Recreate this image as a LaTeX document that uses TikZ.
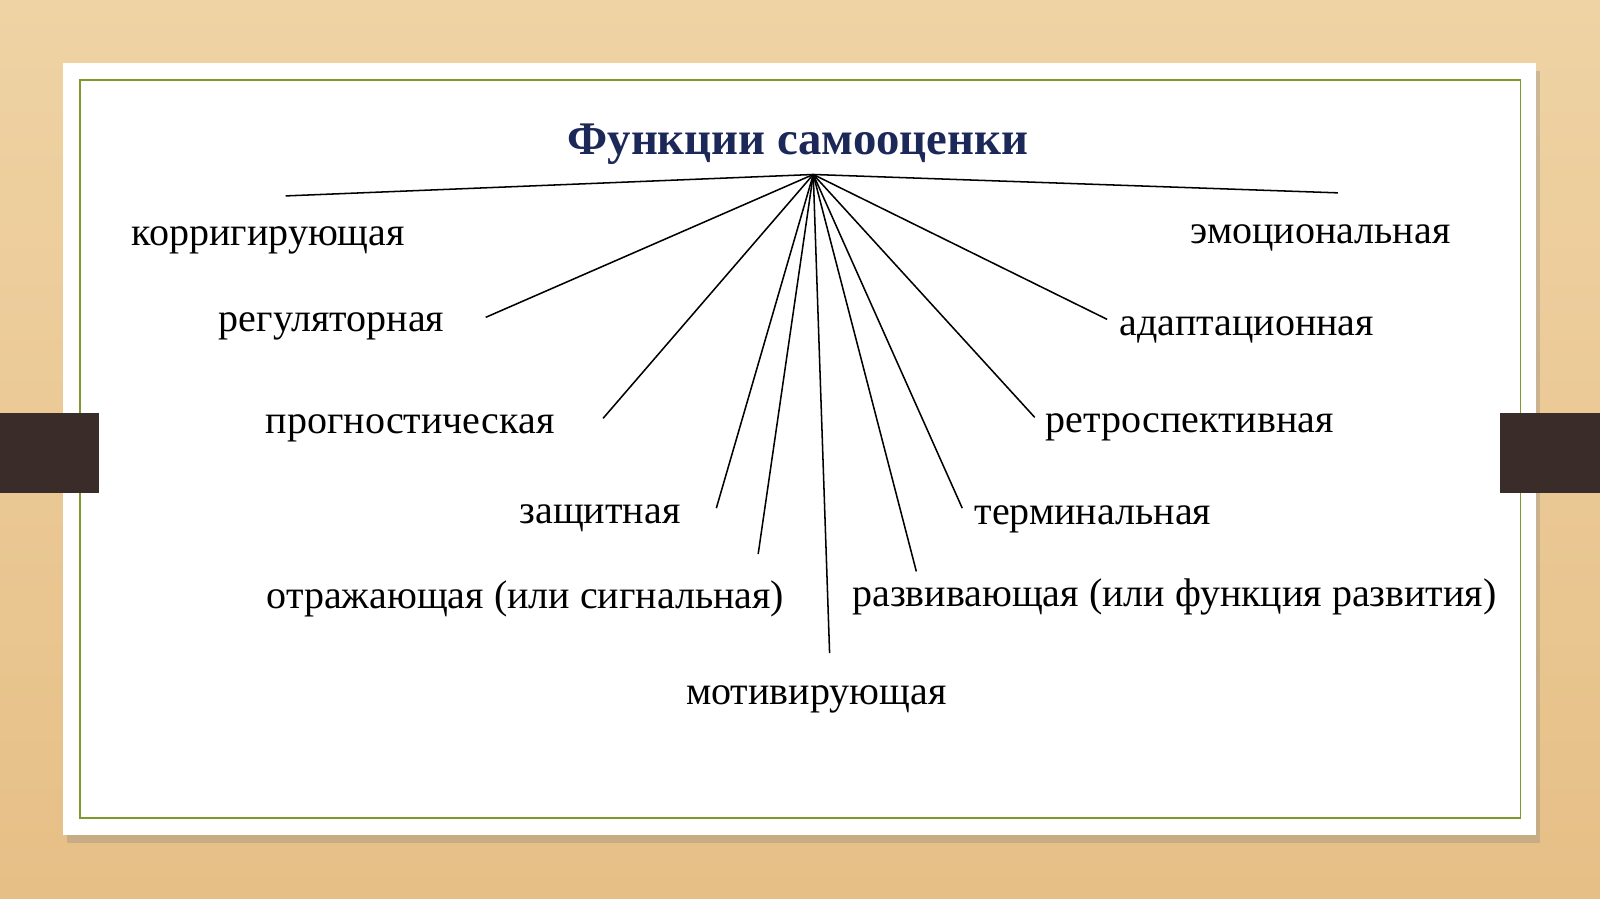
\documentclass[tikz,border=0pt]{standalone}
\usepackage{fontspec}
\setmainfont{Liberation Serif}
\usetikzlibrary{shadows}

\definecolor{woodlight}{HTML}{EFD3A4}
\definecolor{wooddark}{HTML}{E6BF86}
\definecolor{framegreen}{HTML}{7E9A2C}
\definecolor{tabbrown}{HTML}{3A2D29}
\definecolor{titleblue}{HTML}{1B2858}

\begin{document}
\begin{tikzpicture}
[ x=0.5pt, y=-0.5pt
, every node/.style={font=\fontsize{19.6}{23}\selectfont, inner sep=0pt}
, func/.style={text=black, yshift=-3.5pt}
, spoke/.style={draw=black, line width=0.75pt}
]

% background
\shade[top color=woodlight, bottom color=wooddark] (0,0) rectangle (1568,881);
\useasboundingbox (0,0) rectangle (1568,881);

% card
\fill[white, drop shadow={shadow xshift=2pt, shadow yshift=-4pt, opacity=0.3}]
  (62,62) rectangle (1505,818);
\draw[framegreen, line width=0.9pt] (78,78) rectangle (1490,802);

% side tabs
\fill[tabbrown] (0,405) rectangle (97,483);
\fill[tabbrown] (1470,405) rectangle (1568,483);

% title
\node[text=titleblue, font=\fontsize{22.9}{27}\selectfont\bfseries, yshift=-2.5pt] (title) at (782,136) {Функции самооценки};

\coordinate (hub) at (797,171);

% functions
\node[func] (korr)   at (263,229) {корригирующая};
\node[func] (emoc)   at (1294,226) {эмоциональная};
\node[func] (regul)  at (325,313) {регуляторная};
\node[func] (adapt)  at (1222,316) {адаптационная};
\node[func] (progn)  at (402,413) {прогностическая};
\node[func] (retro)  at (1166,412) {ретроспективная};
\node[func] (zasch)  at (588,501) {защитная};
\node[func] (termin) at (1071,502) {терминальная};
\node[func] (otraz)  at (515,580) {отражающая (или сигнальная)};
\node[func] (razv)   at (1151,578) {развивающая (или функция развития)};
\node[func] (motiv)  at (800,678) {мотивирующая};

% line ends
\coordinate (korr-end)   at (280,192);
\coordinate (emoc-end)   at (1311,189);
\coordinate (regul-end)  at (476,311);
\coordinate (adapt-end)  at (1085,313);
\coordinate (progn-end)  at (591,410);
\coordinate (retro-end)  at (1014,409);
\coordinate (zasch-end)  at (702,498);
\coordinate (termin-end) at (943,498);
\coordinate (otraz-end)  at (743,543);
\coordinate (razv-end)   at (898,560);
\coordinate (motiv-end)  at (813,640);

\draw[spoke] (hub) -- (korr-end);
\draw[spoke] (hub) -- (emoc-end);
\draw[spoke] (hub) -- (regul-end);
\draw[spoke] (hub) -- (adapt-end);
\draw[spoke] (hub) -- (progn-end);
\draw[spoke] (hub) -- (retro-end);
\draw[spoke] (hub) -- (zasch-end);
\draw[spoke] (hub) -- (termin-end);
\draw[spoke] (hub) -- (otraz-end);
\draw[spoke] (hub) -- (razv-end);
\draw[spoke] (hub) -- (motiv-end);

\end{tikzpicture}
\end{document}
